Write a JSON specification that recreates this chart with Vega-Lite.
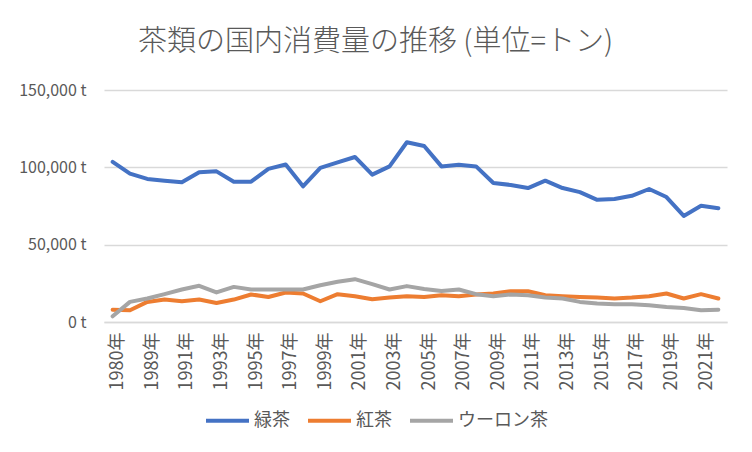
{
  "$schema": "https://vega.github.io/schema/vega-lite/v6.json",
  "autosize": "none",
  "width": 623,
  "height": 232,
  "padding": {"left": 104, "top": 90, "right": 25, "bottom": 130},
  "background": "white",
  "config": {
    "font": "Noto Sans CJK JP",
    "view": {"stroke": null}
  },
  "title": {
    "text": "茶類の国内消費量の推移 (単位=トン)",
    "fontSize": 29,
    "fontWeight": 300,
    "color": "#595959",
    "font": "Noto Sans CJK JP",
    "anchor": "middle",
    "dx": -40,
    "offset": 25
  },
  "data": {
    "values": [
      {"year": "1980年", "tea": "緑茶", "tons": 103500},
      {"year": "1985年", "tea": "緑茶", "tons": 95900},
      {"year": "1989年", "tea": "緑茶", "tons": 92500},
      {"year": "1990年", "tea": "緑茶", "tons": 91400},
      {"year": "1991年", "tea": "緑茶", "tons": 90300},
      {"year": "1992年", "tea": "緑茶", "tons": 96800},
      {"year": "1993年", "tea": "緑茶", "tons": 97400},
      {"year": "1994年", "tea": "緑茶", "tons": 90700},
      {"year": "1995年", "tea": "緑茶", "tons": 90700},
      {"year": "1996年", "tea": "緑茶", "tons": 99000},
      {"year": "1997年", "tea": "緑茶", "tons": 101800},
      {"year": "1998年", "tea": "緑茶", "tons": 87700},
      {"year": "1999年", "tea": "緑茶", "tons": 99600},
      {"year": "2000年", "tea": "緑茶", "tons": 103200},
      {"year": "2001年", "tea": "緑茶", "tons": 106700},
      {"year": "2002年", "tea": "緑茶", "tons": 95300},
      {"year": "2003年", "tea": "緑茶", "tons": 100600},
      {"year": "2004年", "tea": "緑茶", "tons": 116200},
      {"year": "2005年", "tea": "緑茶", "tons": 113800},
      {"year": "2006年", "tea": "緑茶", "tons": 100600},
      {"year": "2007年", "tea": "緑茶", "tons": 101700},
      {"year": "2008年", "tea": "緑茶", "tons": 100600},
      {"year": "2009年", "tea": "緑茶", "tons": 89900},
      {"year": "2010年", "tea": "緑茶", "tons": 88600},
      {"year": "2011年", "tea": "緑茶", "tons": 86600},
      {"year": "2012年", "tea": "緑茶", "tons": 91400},
      {"year": "2013年", "tea": "緑茶", "tons": 86600},
      {"year": "2014年", "tea": "緑茶", "tons": 84000},
      {"year": "2015年", "tea": "緑茶", "tons": 79000},
      {"year": "2016年", "tea": "緑茶", "tons": 79500},
      {"year": "2017年", "tea": "緑茶", "tons": 81600},
      {"year": "2018年", "tea": "緑茶", "tons": 86000},
      {"year": "2019年", "tea": "緑茶", "tons": 80800},
      {"year": "2020年", "tea": "緑茶", "tons": 68600},
      {"year": "2021年", "tea": "緑茶", "tons": 75100},
      {"year": "2022年", "tea": "緑茶", "tons": 73600},
      {"year": "1980年", "tea": "紅茶", "tons": 8000},
      {"year": "1985年", "tea": "紅茶", "tons": 7600},
      {"year": "1989年", "tea": "紅茶", "tons": 13000},
      {"year": "1990年", "tea": "紅茶", "tons": 14500},
      {"year": "1991年", "tea": "紅茶", "tons": 13400},
      {"year": "1992年", "tea": "紅茶", "tons": 14500},
      {"year": "1993年", "tea": "紅茶", "tons": 12300},
      {"year": "1994年", "tea": "紅茶", "tons": 14500},
      {"year": "1995年", "tea": "紅茶", "tons": 17800},
      {"year": "1996年", "tea": "紅茶", "tons": 16200},
      {"year": "1997年", "tea": "紅茶", "tons": 19100},
      {"year": "1998年", "tea": "紅茶", "tons": 18400},
      {"year": "1999年", "tea": "紅茶", "tons": 13400},
      {"year": "2000年", "tea": "紅茶", "tons": 18000},
      {"year": "2001年", "tea": "紅茶", "tons": 16700},
      {"year": "2002年", "tea": "紅茶", "tons": 14700},
      {"year": "2003年", "tea": "紅茶", "tons": 15800},
      {"year": "2004年", "tea": "紅茶", "tons": 16700},
      {"year": "2005年", "tea": "紅茶", "tons": 16200},
      {"year": "2006年", "tea": "紅茶", "tons": 17300},
      {"year": "2007年", "tea": "紅茶", "tons": 16700},
      {"year": "2008年", "tea": "紅茶", "tons": 17800},
      {"year": "2009年", "tea": "紅茶", "tons": 18400},
      {"year": "2010年", "tea": "紅茶", "tons": 19900},
      {"year": "2011年", "tea": "紅茶", "tons": 19900},
      {"year": "2012年", "tea": "紅茶", "tons": 17300},
      {"year": "2013年", "tea": "紅茶", "tons": 16700},
      {"year": "2014年", "tea": "紅茶", "tons": 16200},
      {"year": "2015年", "tea": "紅茶", "tons": 15800},
      {"year": "2016年", "tea": "紅茶", "tons": 15200},
      {"year": "2017年", "tea": "紅茶", "tons": 15800},
      {"year": "2018年", "tea": "紅茶", "tons": 16700},
      {"year": "2019年", "tea": "紅茶", "tons": 18400},
      {"year": "2020年", "tea": "紅茶", "tons": 15200},
      {"year": "2021年", "tea": "紅茶", "tons": 18000},
      {"year": "2022年", "tea": "紅茶", "tons": 15200},
      {"year": "1980年", "tea": "ウーロン茶", "tons": 3700},
      {"year": "1985年", "tea": "ウーロン茶", "tons": 13000},
      {"year": "1989年", "tea": "ウーロン茶", "tons": 15200},
      {"year": "1990年", "tea": "ウーロン茶", "tons": 18000},
      {"year": "1991年", "tea": "ウーロン茶", "tons": 21000},
      {"year": "1992年", "tea": "ウーロン茶", "tons": 23400},
      {"year": "1993年", "tea": "ウーロン茶", "tons": 19100},
      {"year": "1994年", "tea": "ウーロン茶", "tons": 22700},
      {"year": "1995年", "tea": "ウーロン茶", "tons": 21000},
      {"year": "1996年", "tea": "ウーロン茶", "tons": 21000},
      {"year": "1997年", "tea": "ウーロン茶", "tons": 21000},
      {"year": "1998年", "tea": "ウーロン茶", "tons": 21000},
      {"year": "1999年", "tea": "ウーロン茶", "tons": 23800},
      {"year": "2000年", "tea": "ウーロン茶", "tons": 26000},
      {"year": "2001年", "tea": "ウーロン茶", "tons": 27700},
      {"year": "2002年", "tea": "ウーロン茶", "tons": 24500},
      {"year": "2003年", "tea": "ウーロン茶", "tons": 21000},
      {"year": "2004年", "tea": "ウーロン茶", "tons": 23200},
      {"year": "2005年", "tea": "ウーロン茶", "tons": 21300},
      {"year": "2006年", "tea": "ウーロン茶", "tons": 20100},
      {"year": "2007年", "tea": "ウーロン茶", "tons": 21000},
      {"year": "2008年", "tea": "ウーロン茶", "tons": 18000},
      {"year": "2009年", "tea": "ウーロン茶", "tons": 16700},
      {"year": "2010年", "tea": "ウーロン茶", "tons": 17800},
      {"year": "2011年", "tea": "ウーロン茶", "tons": 17300},
      {"year": "2012年", "tea": "ウーロン茶", "tons": 15800},
      {"year": "2013年", "tea": "ウーロン茶", "tons": 15200},
      {"year": "2014年", "tea": "ウーロン茶", "tons": 13000},
      {"year": "2015年", "tea": "ウーロン茶", "tons": 11900},
      {"year": "2016年", "tea": "ウーロン茶", "tons": 11500},
      {"year": "2017年", "tea": "ウーロン茶", "tons": 11500},
      {"year": "2018年", "tea": "ウーロン茶", "tons": 10800},
      {"year": "2019年", "tea": "ウーロン茶", "tons": 9700},
      {"year": "2020年", "tea": "ウーロン茶", "tons": 9100},
      {"year": "2021年", "tea": "ウーロン茶", "tons": 7600},
      {"year": "2022年", "tea": "ウーロン茶", "tons": 8000}
    ]
  },
  "mark": {"type": "line", "strokeWidth": 4, "strokeCap": "round", "strokeJoin": "round"},
  "encoding": {
    "x": {
      "field": "year",
      "type": "ordinal",
      "sort": null,
      "scale": {"padding": 0.5},
      "axis": {
        "title": null,
        "values": ["1980年","1989年","1991年","1993年","1995年","1997年","1999年","2001年","2003年","2005年","2007年","2009年","2011年","2013年","2015年","2017年","2019年","2021年"],
        "labelAngle": -90,
        "labelAlign": "right",
        "labelBaseline": "middle",
        "labelOffset": 5,
        "labelPadding": 10,
        "labelFontSize": 18,
        "labelColor": "#595959",
        "labelOverlap": false,
        "ticks": false,
        "domainColor": "#d9d9d9",
        "domainWidth": 1.5,
        "grid": false
      }
    },
    "y": {
      "field": "tons",
      "type": "quantitative",
      "scale": {"domain": [0, 150000], "nice": false},
      "axis": {
        "title": null,
        "values": [0, 50000, 100000, 150000],
        "labelExpr": "format(datum.value, ',') + ' t'",
        "labelFontSize": 16,
        "labelColor": "#595959",
        "labelPadding": 18,
        "ticks": false,
        "domain": false,
        "gridColor": "#d9d9d9",
        "gridWidth": 1.5
      }
    },
    "color": {
      "field": "tea",
      "type": "nominal",
      "scale": {"domain": ["緑茶", "紅茶", "ウーロン茶"], "range": ["#4472C4", "#ED7D31", "#A5A5A5"]},
      "legend": {
        "title": null,
        "orient": "none",
        "direction": "horizontal",
        "legendX": 100,
        "legendY": 307,
        "symbolType": "stroke",
        "symbolSize": 1849,
        "symbolStrokeWidth": 4,
        "labelFontSize": 18,
        "labelColor": "#595959",
        "labelOffset": 3,
        "columnPadding": 10
      }
    }
  }
}
